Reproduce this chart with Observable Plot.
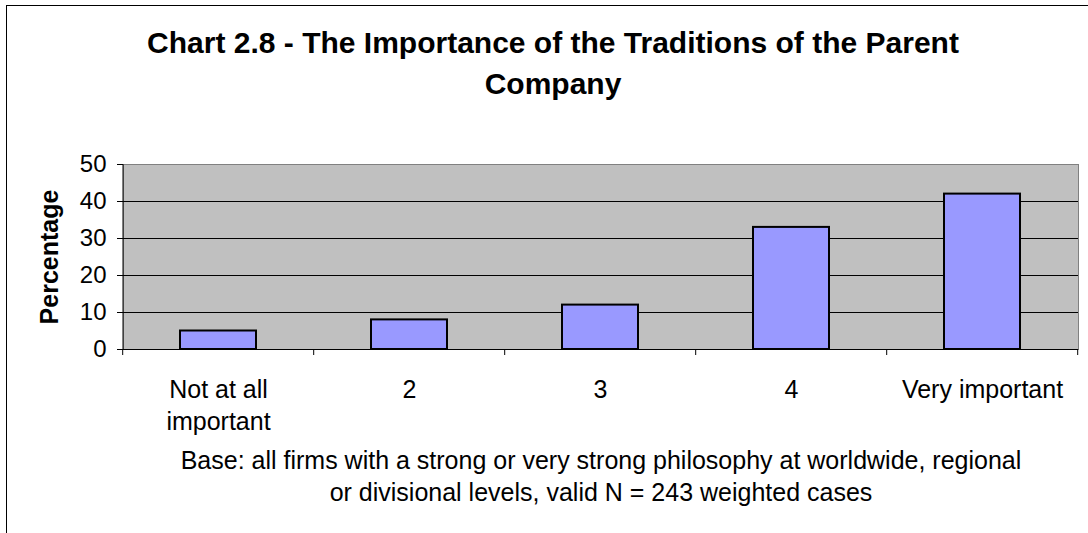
<!DOCTYPE html>
<html>
<head>
<meta charset="utf-8">
<script src="https://cdn.jsdelivr.net/npm/d3@7"></script>
<script src="https://cdn.jsdelivr.net/npm/@observablehq/plot@0.6"></script>
<style>
  html, body { margin: 0; padding: 0; background: #fff; overflow: hidden; }
  body { width: 1088px; height: 533px; position: relative; font-family: "Liberation Sans", Arial, sans-serif; color: #000; }
  #border { position: absolute; left: 6px; top: 5px; width: 2000px; height: 2000px; border-left: 1px solid #000; border-top: 1px solid #000; }
  #title { position: absolute; left: 53px; top: 22px; width: 1000px; text-align: center; font-size: 30px; font-weight: bold; line-height: 41px; z-index: 2; }
  #chart { position: absolute; left: 0; top: 0; z-index: 1; }
  #caption { position: absolute; left: 101px; top: 444px; width: 1000px; text-align: center; font-size: 25px; line-height: 32px; z-index: 2; }
</style>
</head>
<body>
<div id="border"></div>
<div id="title"></div>
<div id="chart"></div>
<div id="caption"></div>
<script>
const titleLines = ["Chart 2.8 - The Importance of the Traditions of the Parent", "Company"];
const captionLines = ["Base: all firms with a strong or very strong philosophy at worldwide, regional", "or divisional levels, valid N = 243 weighted cases"];
const yLabel = "Percentage";
const categories = ["Not at all\nimportant", "2", "3", "4", "Very important"];
const values = [5, 8, 12, 33, 42];
const yTicks = [0, 10, 20, 30, 40, 50];
const gridTicks = [10, 20, 30, 40];

document.getElementById("title").innerHTML = titleLines.join("<br>");
document.getElementById("caption").innerHTML = captionLines.join("<br>");

const data = categories.map((c, i) => ({category: c, value: values[i]}));
const padInner = 0.6;

function boundaryTicks(index, scales, vals, dimensions) {
  const x = scales.x, y = scales.y;
  const step = x(categories[1]) - x(categories[0]);
  const bw = step * (1 - padInner);
  const y0 = y(0);
  const bounds = categories.map(c => x(c) + bw / 2 - step / 2);
  bounds.push(x(categories[categories.length - 1]) + bw / 2 + step / 2);
  const g = d3.create("svg:g").attr("stroke", "black").attr("stroke-width", 1);
  g.selectAll("line.t").data(bounds).join("line").attr("class", "t")
    .attr("x1", d => d).attr("x2", d => d).attr("y1", y0).attr("y2", y0 + 6);
  const left = dimensions.marginLeft;
  g.append("line").attr("x1", left).attr("x2", left).attr("y1", y(yTicks[yTicks.length - 1])).attr("y2", y0);
  return g.node();
}

const chart = Plot.plot({
  width: 1088,
  height: 440,
  marginLeft: 123,
  marginRight: 10,
  marginTop: 164,
  marginBottom: 91,
  style: {fontFamily: "'Liberation Sans', Arial, sans-serif", color: "black", background: "transparent"},
  x: {domain: categories, paddingInner: padInner, paddingOuter: padInner / 2, label: null},
  y: {domain: [0, 50], label: null},
  marks: [
    Plot.frame({fill: "#C0C0C0", stroke: "#808080"}),
    Plot.gridY(gridTicks, {stroke: "black", strokeOpacity: 1}),
    Plot.barY(data, {x: "category", y: "value", fill: "#9999FF", stroke: "black", strokeWidth: 2}),
    Plot.ruleY([0], {stroke: "black"}),
    boundaryTicks,
    Plot.axisY({ticks: yTicks, tickSize: 6, tickPadding: 11, fontSize: 24, label: null}),
    Plot.axisX({tickSize: 0, tickPadding: 26, fontSize: 25, lineHeight: 1.28, label: null}),
    Plot.text([yLabel], {frameAnchor: "left", textAnchor: "middle", dx: -74, rotate: -90, fontSize: 25, fontWeight: "bold"})
  ]
});
document.getElementById("chart").appendChild(chart);
</script>
</body>
</html>
